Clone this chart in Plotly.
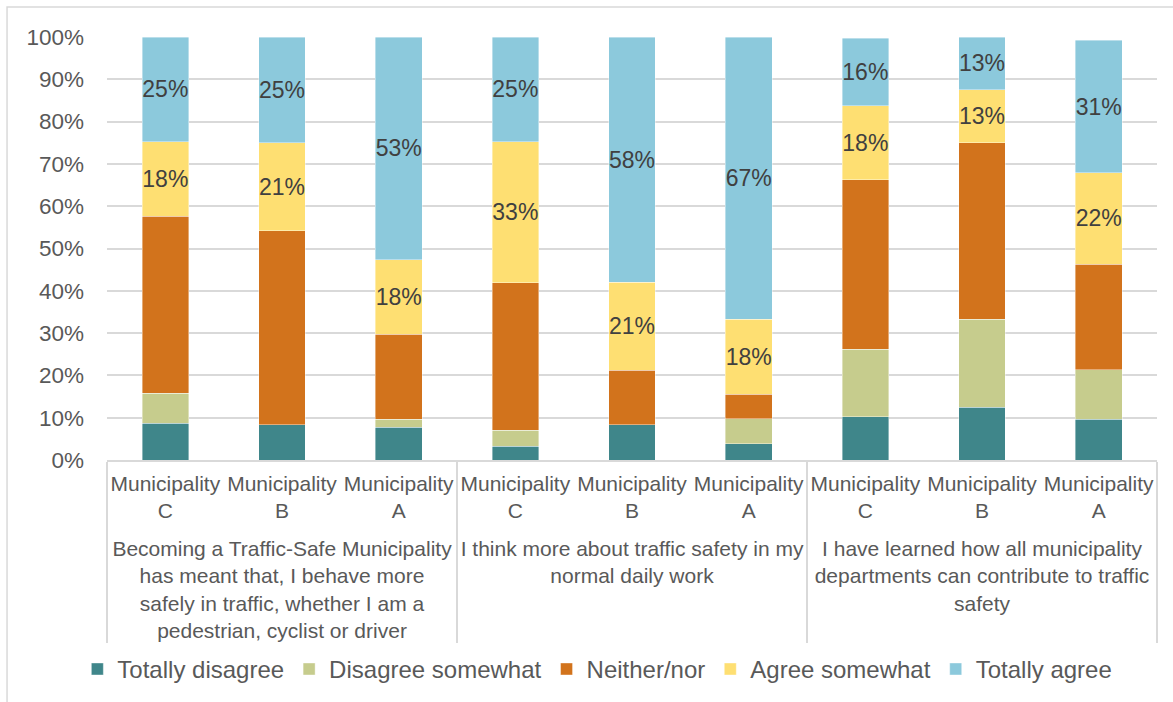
import plotly.graph_objects as go

groups = [
    "Becoming a Traffic-Safe Municipality<br>has meant that, I behave more<br>safely in traffic, whether I am a<br>pedestrian, cyclist or driver",
    "I think more about traffic safety in my<br>normal daily work",
    "I have learned how all municipality<br>departments can contribute to traffic<br>safety",
]
municipality_names = ["C", "B", "A"]

series_names = ["Totally disagree", "Disagree somewhat", "Neither/nor", "Agree somewhat", "Totally agree"]

totally_disagree  = [0.087, 0.083, 0.077, 0.033, 0.083, 0.038, 0.102, 0.125, 0.096]
disagree_somewhat = [0.071, 0.000, 0.019, 0.037, 0.000, 0.059, 0.160, 0.208, 0.117]
neither_nor       = [0.418, 0.459, 0.201, 0.349, 0.129, 0.059, 0.400, 0.417, 0.250]
agree_somewhat    = [0.176, 0.208, 0.176, 0.333, 0.208, 0.177, 0.176, 0.125, 0.216]
totally_agree     = [0.248, 0.250, 0.527, 0.248, 0.580, 0.667, 0.159, 0.125, 0.313]

values = [totally_disagree, disagree_somewhat, neither_nor, agree_somewhat, totally_agree]
colors = ["#3F868A", "#C6CC8D", "#D2731C", "#FEDF72", "#8CC9DC"]
show_labels = [False, False, False, True, True]

# invisible tall spacer (non-breaking spaces) that only deepens the first label row
SP = "<span style='font-size:60px'>\u00a0</span>"
municipalities = [f"Municipality<br>{SP}{m}{SP}" for m in municipality_names]

x_outer = [g for g in groups for _ in municipalities]
x_inner = [m for _ in groups for m in municipalities]

FONT = "Liberation Sans, Arial, sans-serif"

fig = go.Figure()
for name, vals, col, lab in zip(series_names, values, colors, show_labels):
    fig.add_trace(go.Bar(
        name=name,
        x=[x_outer, x_inner],
        y=vals,
        marker=dict(color=col, line=dict(color="rgba(255,255,255,0.5)", width=0.8)),
        texttemplate="%{y:.0%}" if lab else None,
        textposition="inside" if lab else "none",
        insidetextanchor="middle",
        textangle=0,
        constraintext="none",
        textfont=dict(family=FONT, size=23, color="#404040"),
        hoverinfo="skip",
    ))

fig.update_layout(
    barmode="stack",
    bargap=0.6,
    width=1173,
    height=702,
    margin=dict(l=107, r=16, t=37, b=242, autoexpand=False),
    paper_bgcolor="white",
    plot_bgcolor="white",
    font=dict(family=FONT, color="#595959"),
    legend=dict(
        orientation="h",
        x=0.467, xanchor="center",
        y=-0.495, yanchor="middle",
        font=dict(family=FONT, size=24, color="#595959"),
        traceorder="normal",
    ),
    showlegend=True,
)

fig.update_yaxes(
    range=[0, 1],
    dtick=0.1,
    tickformat=".0%",
    showgrid=True,
    gridcolor="#D9D9D9",
    gridwidth=1.5,
    zeroline=False,
    automargin=False,
    tickfont=dict(family=FONT, size=22.5, color="#595959"),
    ticklabelstandoff=22,
)
fig.update_xaxes(
    type="multicategory",
    tickangle=0,
    automargin=False,
    showline=True,
    linecolor="#D9D9D9",
    linewidth=1.5,
    showdividers=True,
    dividercolor="#D9D9D9",
    dividerwidth=1.5,
    ticklabelstandoff=4,
    tickfont=dict(family=FONT, size=21, color="#595959"),
)

# outer chart frame
fig.add_shape(type="rect", xref="paper", yref="paper",
              x0=-0.0952, x1=1.2, y0=-0.8, y1=1.0709,
              line=dict(color="#D9D9D9", width=1.5), fillcolor="rgba(0,0,0,0)", layer="below")

fig.write_html(
    "out.html",
    config={"displayModeBar": False},
    post_script="document.body.style.margin='0';document.body.style.overflow='hidden';",
)
